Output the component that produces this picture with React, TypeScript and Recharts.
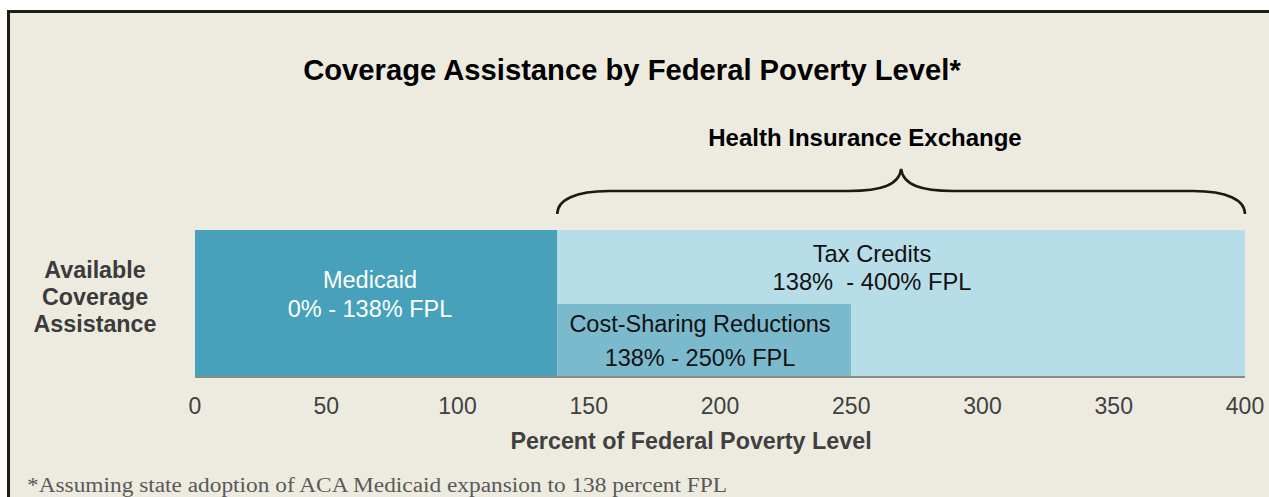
import { Bar, BarChart, ReferenceArea, XAxis, YAxis } from "recharts";

// rows of the band: upper half has no cost-sharing, lower half does
const rows = ["upper", "lower"];
const medicaid = [138, 138];
const costSharing = [0, 112];
const taxCredits = [262, 150];
const xTicks = [0, 50, 100, 150, 200, 250, 300, 350, 400];
const exchangeRange = [138, 400];

const title = "Coverage Assistance by Federal Poverty Level*";
const exchangeLabel = "Health Insurance Exchange";
const medicaidLabel = ["Medicaid", "0% - 138% FPL"];
const taxLabel = ["Tax Credits", "138%  - 400% FPL"];
const csrLabel = ["Cost-Sharing Reductions", "138% - 250% FPL"];
const yLabel = ["Available", "Coverage", "Assistance"];
const xLabel = "Percent of Federal Poverty Level";
const footnote = "*Assuming state adoption of ACA Medicaid expansion to 138 percent FPL";

const data = rows.map((row, i) => ({
  row,
  medicaid: medicaid[i],
  costSharing: costSharing[i],
  taxCredits: taxCredits[i],
}));

const SANS = "'Liberation Sans', Arial, sans-serif";
const SERIF = "'Liberation Serif', 'Times New Roman', serif";
const W = 1269;
const H = 497;

function Brace(props: { x?: number; y?: number; width?: number }) {
  const x = props.x ?? 0;
  const y = props.y ?? 0;
  const w = props.width ?? 0;
  const tip = y - 16;
  const mid = y - 39;
  const peak = y - 61;
  const cx = x + w / 2;
  const r = x + w;
  const d = [
    `M ${x} ${tip}`,
    `C ${x} ${mid + 9} ${x + 18} ${mid} ${x + 52} ${mid}`,
    `L ${cx - 52} ${mid}`,
    `C ${cx - 20} ${mid} ${cx - 2} ${mid - 6} ${cx} ${peak}`,
    `C ${cx + 2} ${mid - 6} ${cx + 20} ${mid} ${cx + 52} ${mid}`,
    `L ${r - 52} ${mid}`,
    `C ${r - 18} ${mid} ${r} ${mid + 9} ${r} ${tip}`,
  ].join(" ");
  return <path d={d} fill="none" stroke="#1c1a14" strokeWidth={2.5} />;
}

export default function App() {
  return (
    <div
      style={{
        position: "absolute",
        left: 0,
        top: 0,
        width: W,
        height: H,
        background: "#fff",
        overflow: "hidden",
      }}
    >
      <div
        style={{
          position: "absolute",
          left: 7,
          top: 10,
          right: 0,
          bottom: 0,
          background: "#EDEBE0",
          borderTop: "3px solid #1f1d16",
          borderLeft: "3px solid #1f1d16",
        }}
      />
      <div style={{ position: "absolute", left: 0, top: 0 }}>
        <BarChart
          width={W}
          height={H}
          data={data}
          layout="vertical"
          margin={{ top: 230, right: 24, bottom: 80, left: 195 }}
          barCategoryGap={0}
        >
          <XAxis
            type="number"
            domain={[0, 400]}
            ticks={xTicks}
            height={40}
            axisLine={{ stroke: "#8a8a8a", strokeWidth: 2 }}
            tickLine={false}
            tickMargin={15}
            tick={{ fill: "#404040", fontSize: 23, fontFamily: SANS }}
          />
          <YAxis
            type="category"
            dataKey="row"
            width={0}
            tick={false}
            tickLine={false}
            axisLine={{ stroke: "#5a5a5a", strokeWidth: 1.5 }}
          />
          <Bar dataKey="medicaid" stackId="fpl" fill="#47A1BA" isAnimationActive={false} />
          <Bar dataKey="costSharing" stackId="fpl" fill="#7BB9CD" isAnimationActive={false} />
          <Bar dataKey="taxCredits" stackId="fpl" fill="#B6DDE8" isAnimationActive={false} />
          <ReferenceArea
            x1={exchangeRange[0]}
            x2={exchangeRange[1]}
            ifOverflow="visible"
            shape={(p: any) => <Brace {...p} />}
          />
        </BarChart>
      </div>
      <svg
        width={W}
        height={H}
        style={{ position: "absolute", left: 0, top: 0, pointerEvents: "none" }}
        fontFamily={SANS}
      >
        <text x={632} y={80} textAnchor="middle" fontSize={29.2} fontWeight="bold" fill="#000">
          {title}
        </text>
        <text x={865} y={146} textAnchor="middle" fontSize={24} fontWeight="bold" fill="#000">
          {exchangeLabel}
        </text>
        {medicaidLabel.map((t, i) => (
          <text key={t} x={370} y={288 + i * 29} textAnchor="middle" fontSize={23.5} fill="#fff">
            {t}
          </text>
        ))}
        {taxLabel.map((t, i) => (
          <text
            key={t}
            x={872}
            y={262 + i * 28}
            textAnchor="middle"
            fontSize={23.7}
            fill="#111"
            style={{ whiteSpace: "pre" }}
          >
            {t}
          </text>
        ))}
        {csrLabel.map((t, i) => (
          <text key={t} x={700} y={332 + i * 34} textAnchor="middle" fontSize={23.5} fill="#111">
            {t}
          </text>
        ))}
        {yLabel.map((t, i) => (
          <text
            key={t}
            x={95}
            y={278 + i * 27}
            textAnchor="middle"
            fontSize={23.3}
            fontWeight="bold"
            fill="#3b3b3b"
          >
            {t}
          </text>
        ))}
        <text x={691} y={449} textAnchor="middle" fontSize={23.3} fontWeight="bold" fill="#404040">
          {xLabel}
        </text>
        <text
          x={27}
          y={492}
          fontSize={20}
          fontFamily={SERIF}
          fill="#595959"
          textLength={700}
          lengthAdjust="spacingAndGlyphs"
        >
          {footnote}
        </text>
      </svg>
    </div>
  );
}
